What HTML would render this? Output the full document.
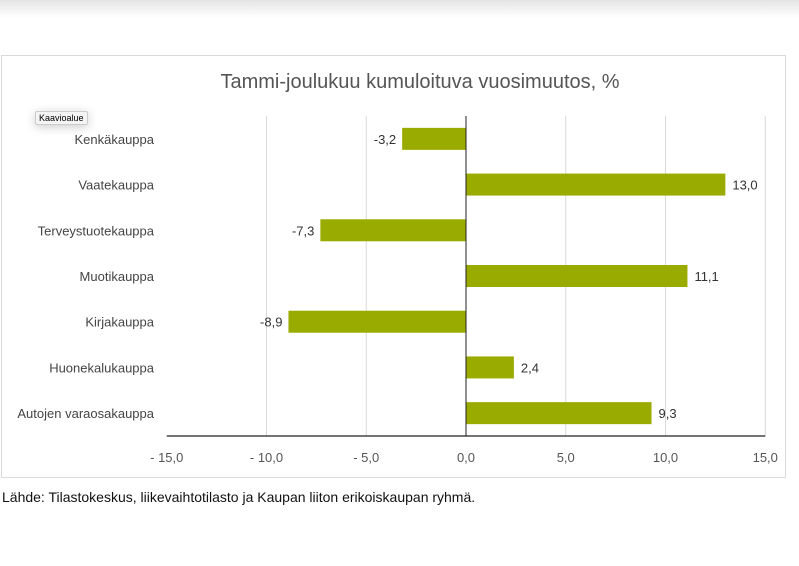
<!DOCTYPE html>
<html><head><meta charset="utf-8"><style>
body{margin:0;width:799px;height:566px;background:#fff;overflow:hidden;font-family:"Liberation Sans",sans-serif;position:relative}
.top{position:absolute;left:0;top:0;width:799px;height:18px;background:linear-gradient(#e4e4e4,#fff)}
.box{position:absolute;left:1px;top:55px;width:783px;height:421px;border:1px solid #d9d9d9}
.src{position:absolute;left:2px;top:489px;font-size:14px;color:#111}
.tip{position:absolute;left:35px;top:111px;font-size:9px;padding:1px 3px;background:#f4f4f4;border:1px solid #ccc;border-radius:2px;box-shadow:0 2px 10px rgba(0,0,0,.2)}
</style></head><body>
<div class="top"></div>
<div class="box"></div>
<svg id="c" width="799" height="566" style="position:absolute;left:0;top:0">
<text x="420" y="88" text-anchor="middle" font-size="20" fill="#555">Tammi-joulukuu kumuloituva vuosimuutos, %</text>
</svg>
<div class="tip">Kaavioalue</div>
<div class="src">Lähde: Tilastokeskus, liikevaihtotilasto ja Kaupan liiton erikoiskaupan ryhmä.</div>
<script>
const categories=["Kenkäkauppa","Vaatekauppa","Terveystuotekauppa","Muotikauppa","Kirjakauppa","Huonekalukauppa","Autojen varaosakauppa"];
const values=[-3.2,13.0,-7.3,11.1,-8.9,2.4,9.3];
const ticks=[-15,-10,-5,0,5,10,15];
const tickLabels=["- 15,0","- 10,0","- 5,0","0,0","5,0","10,0","15,0"];
const svg=document.getElementById('c');const NS='http://www.w3.org/2000/svg';
const x=v=>466+v*19.95;
const top0=116,bottom=436,band=(bottom-top0)/categories.length;
const y=i=>top0+band*(i+0.5);
function mk(t,a,txt){const e=document.createElementNS(NS,t);for(const k in a)e.setAttribute(k,a[k]);if(txt!=null)e.textContent=txt;svg.appendChild(e);return e;}
ticks.forEach((t,i)=>{
 if(t!==0&&t!==-15){const g=mk('line',{x1:x(t),x2:x(t),y1:top0,y2:bottom,stroke:'#d9d9d9','stroke-width':1});
 
 }
 const l=mk('text',{x:x(t),y:462,'text-anchor':'middle','font-size':13,fill:'#555'},tickLabels[i]);
 
 
});
categories.forEach((c,i)=>{
 const v=values[i],cy=y(i);
 const r=mk('rect',{x:Math.min(x(0),x(v)),y:cy-11,width:Math.abs(x(v)-x(0)),height:22,fill:'#9aab00'});
 
 
 const cl=mk('text',{x:154,y:cy+5,'text-anchor':'end','font-size':13,fill:'#444'},c);
 
 
 const vl=mk('text',{x:v<0?x(v)-6:x(v)+7,y:cy+5,'text-anchor':v<0?'end':'start','font-size':13,fill:'#333'},v.toFixed(1).replace('.',','));
 
 
});
const z=mk('line',{x1:x(0),x2:x(0),y1:top0,y2:bottom,stroke:'#222','stroke-width':1});


const ax=mk('line',{x1:x(-15),x2:x(15),y1:bottom,y2:bottom,stroke:'#222','stroke-width':1.3});


</script>
</body></html>
